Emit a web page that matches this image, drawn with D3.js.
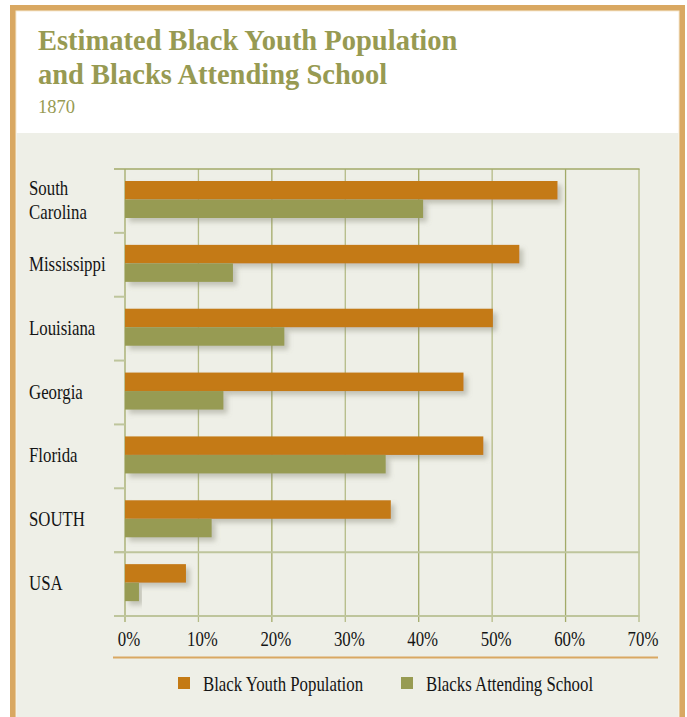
<!DOCTYPE html>
<html><head><meta charset="utf-8">
<script src="https://cdn.jsdelivr.net/npm/d3@7"></script>
<style>body{margin:0;background:#fff;overflow:hidden}</style>
</head><body><svg id="c" width="687" height="717"></svg>
<script>
const categories = ["South\nCarolina","Mississippi","Louisiana","Georgia","Florida","SOUTH","USA"];
const seriesNames = ["Black Youth Population","Blacks Attending School"];
const youthPopulation = [58.9,53.7,50.1,46.1,48.8,36.2,8.3];
const attendingSchool = [40.6,14.7,21.7,13.4,35.5,11.8,1.9];
const tickValues = [0,10,20,30,40,50,60,70];
const titleLines = ["Estimated Black Youth Population","and Blacks Attending School"];
const subtitle = "1870";

const colors = {"Black Youth Population":"#C47A14","Blacks Attending School":"#979B52"};
const FONT = "'Liberation Serif', 'Times New Roman', serif";
const svg = d3.select("#c");

// frame
svg.append("rect").attr("x",10).attr("y",5).attr("width",675).attr("height",730).attr("fill","#D9A862");
svg.append("rect").attr("x",15.5).attr("y",10.5).attr("width",664).attr("height",720).attr("fill","#F6E9D2");
svg.append("rect").attr("x",16.5).attr("y",11.5).attr("width",662).attr("height",720).attr("fill","#FFFFFF");
svg.append("rect").attr("x",16.5).attr("y",133).attr("width",662).attr("height",600).attr("fill","#EEEFE7");

// titles
svg.selectAll("text.title").data(titleLines).join("text").attr("class","title")
  .attr("x",38).attr("y",(d,i)=>50+i*34)
  .attr("font-family",FONT).attr("font-weight","bold").attr("font-size",28.5)
  .attr("fill","#979A52").text(d=>d);
svg.append("text").attr("x",38).attr("y",113).attr("font-family",FONT).attr("font-size",18.5)
  .attr("fill","#979A52").text(subtitle);

// scales
const x = d3.scaleLinear().domain([0,70]).range([125,639]);
const y = d3.scaleBand().domain(categories).range([169,616]).padding(0);
const ySub = d3.scaleBand().domain(seriesNames).range([12,49]).padding(0);

const grid = svg.append("g");
grid.selectAll("line.v").data(tickValues).join("line").attr("class","v")
  .attr("x1",d=>x(d)).attr("x2",d=>x(d)).attr("y1",169).attr("y2",622)
  .attr("stroke",(d,i)=> i%2===0 ? "#A2AA68" : "#B4BB86").attr("stroke-width",1.3);
grid.append("line").attr("x1",114).attr("x2",x(70)+0.6).attr("y1",169).attr("y2",169)
  .attr("stroke","#A2AA68").attr("stroke-width",1.3);
grid.selectAll("line.t").data(categories.slice(1)).join("line").attr("class","t")
  .attr("x1",114).attr("x2",x(0)).attr("y1",d=>y(d)).attr("y2",d=>y(d))
  .attr("stroke","#BEC59C").attr("stroke-width",2);
grid.selectAll("line.h").data([y("USA"), y.range()[1]]).join("line").attr("class","h")
  .attr("x1",114).attr("x2",x(70)+0.6).attr("y1",d=>d).attr("y2",d=>d)
  .attr("stroke","#BEC59C").attr("stroke-width",2);

// shadow filter
const defs = svg.append("defs");
const f = defs.append("filter").attr("id","sh").attr("x","-10%").attr("y","-30%").attr("width","130%").attr("height","190%");
f.append("feDropShadow").attr("dx",4).attr("dy",4).attr("stdDeviation",2.5)
  .attr("flood-color","#7f8070").attr("flood-opacity",0.4);

// bars
const rows = categories.map((c,i)=>({cat:c, values:[
  {series:seriesNames[0], v:youthPopulation[i]},
  {series:seriesNames[1], v:attendingSchool[i]}]}));
const bars = svg.append("g");
rows.forEach(r=>{
  r.values.forEach(s=>{
    bars.append("rect")
      .attr("x",x(0)).attr("y",y(r.cat)+ySub(s.series))
      .attr("width",x(s.v)-x(0)).attr("height",ySub.bandwidth())
      .attr("fill",colors[s.series]).attr("filter","url(#sh)");
  });
});

function condense(sel, k){
  sel.each(function(){
    const w = this.getComputedTextLength();
    d3.select(this).attr("textLength", w*k).attr("lengthAdjust","spacingAndGlyphs");
  });
}

// y labels
const ylab = svg.append("g");
categories.forEach(c=>{
  const lines = c.split("\n");
  const cy = y(c) + y.bandwidth()/2;
  lines.forEach((ln,i)=>{
    ylab.append("text").attr("class","cond")
      .attr("x",29).attr("y", cy + 6 + (i-(lines.length-1)/2)*24)
      .attr("font-family",FONT).attr("font-size",21).attr("fill","#141414").text(ln);
  });
});

// x axis labels
const xAxis = d3.axisBottom(x).tickValues(tickValues).tickFormat(d=>d+"%").tickSize(0);
const xg = svg.append("g").attr("transform","translate(0,646)").call(xAxis);
xg.select(".domain").remove();
xg.selectAll("text").attr("y",0).attr("dy",0).attr("dx",3.5)
  .attr("font-family",FONT).attr("font-size",21).attr("fill","#141414").attr("class","cond");

// separator line
svg.append("line").attr("x1",113).attr("x2",658).attr("y1",657.5).attr("y2",657.5)
  .attr("stroke","#D9A862").attr("stroke-width",2.2);

// legend
const legendX = [178, 401];
const lg = svg.append("g");
seriesNames.forEach((s,i)=>{
  lg.append("rect").attr("x",legendX[i]).attr("y",677).attr("width",12).attr("height",12).attr("fill",colors[s]);
  lg.append("text").attr("class","cond").attr("x",legendX[i]+25).attr("y",691)
    .attr("font-family",FONT).attr("font-size",21).attr("fill","#141414").text(s);
});

condense(svg.selectAll("text.cond"), 0.8);
</script>
</body></html>
